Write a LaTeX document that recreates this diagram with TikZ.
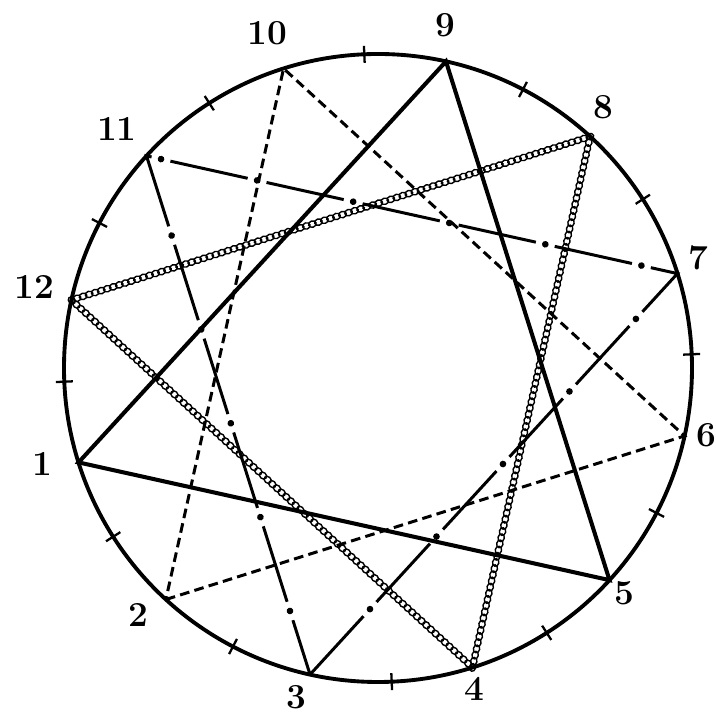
\documentclass[tikz,border=0pt]{standalone}
\usetikzlibrary{calc,decorations.markings}
\tikzset{
  rim/.style={line width=2.2pt},
  tick/.style={line width=1.3pt},
  label/.style={inner sep=1pt},
  triad/.style={line width=2.3pt},
  dashtriad/.style={line width=1.7pt,dash pattern=on 5.5pt off 3pt},
  dotdashtriad/.style={line width=1.7pt,dash pattern=on 45pt off 11pt,
    postaction={decorate,decoration={markings,
      mark=between positions 50.5pt and 1 step 56pt with {\fill (0,0) circle (1.9pt);}}}},
  chaintriad/.style={decorate,decoration={markings,
      mark=between positions 0 and 1 step 3.6pt with {\draw[line width=0.8pt] (0,0) ellipse (2.2pt and 1.8pt);}}},
}
\begin{document}
\begin{tikzpicture}[font=\fontsize{20}{22}\selectfont\bfseries]
\pgfmathsetmacro{\r}{6.28} % raggio del cerchio
\pgfmathsetmacro{\rl}{6.88} % raggio delle etichette
\pgfmathsetmacro{\t}{0.17} % mezza tacca
\useasboundingbox (-7.56,-6.94) rectangle (6.76,7.36);

\draw[rim] (0,0) circle (\r); % cerchio
\foreach \k in {1,...,12} {
  \coordinate (p\k) at ({167.5+30*\k}:\r); % punto k
  \node[label] (n\k) at ($(-0.15,0.14)+({167.5+30*\k}:\rl)$) {\k}; % etichetta k
  \draw[tick] ({182.5+30*\k}:{\r-\t}) -- ({182.5+30*\k}:{\r+\t}); % tacca
}

\draw[triad] (p1) -- (p5) -- (p9) -- cycle; % 1-5-9
\draw[dashtriad] (p2) -- (p6) -- (p10) -- cycle; % 2-6-10
\draw[dotdashtriad] (p3) -- (p7) -- (p11) -- cycle; % 3-7-11
\draw[chaintriad] (p4) -- (p8) -- (p12) -- cycle; % 4-8-12
\end{tikzpicture}
\end{document}
